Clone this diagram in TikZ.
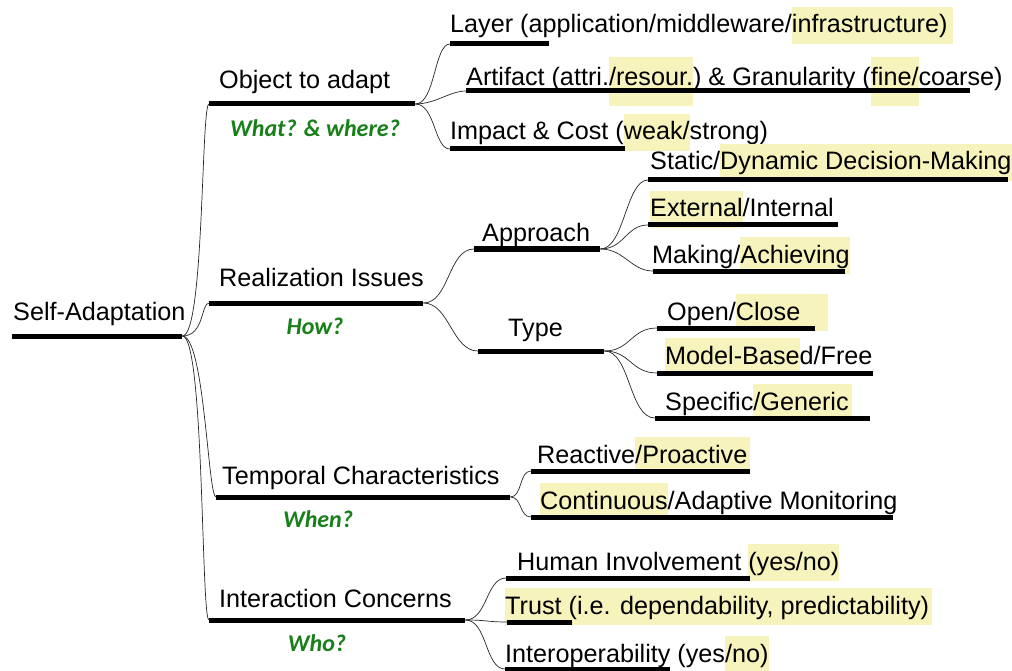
\documentclass[tikz,border=0pt]{standalone}
\usepackage{fontspec}
\setmainfont{Liberation Sans}
\newfontfamily\greenfont{Carlito}
\definecolor{hly}{RGB}{246,243,188}
\definecolor{qgreen}{RGB}{24,128,24}
\newcommand\hlbox[1]{{\setlength{\fboxsep}{0pt}\colorbox{hly}{\rule[-0.45em]{0pt}{1.5em}#1}}}
\newcommand\hldeep[1]{{\setlength{\fboxsep}{0pt}\colorbox{hly}{\rule[-0.8em]{0pt}{1.95em}#1}}}
\begin{document}
\begin{tikzpicture}[x=1pt,y=-1pt,
  txt/.style={anchor=base west, inner sep=0pt, font=\fontsize{25.2}{28}\selectfont},
  q/.style={anchor=base, inner sep=0pt, text=qgreen, font=\greenfont\bfseries\itshape\fontsize{24}{28}\selectfont},
  ul/.style={anchor=west, fill=black, inner sep=0pt, minimum height=5pt},
  conn/.style={draw=black!85, line width=0.7pt}]
\useasboundingbox (0,0) rectangle (1012,671);

% texts
\node[txt] (t-root) at (13,320) {Self-Adaptation};
\node[txt] (t-obj) at (219,89) {Object to adapt};
\node[txt] (t-real) at (219,287) {Realization Issues};
\node[txt] (t-temp) at (222,484) {Temporal Characteristics};
\node[txt] (t-inter) at (219,607) {Interaction Concerns};

\node[q] (q-obj) at (315,137) {What? \& where?};
\node[q] (q-real) at (315,334) {How?};
\node[q] (q-temp) at (318,527) {When?};
\node[q] (q-inter) at (317,651) {Who?};

\node[txt] (t-layer) at (450,33) {Layer (application/middleware/\hlbox{infrastructure)\hspace{6pt}}};
\node[txt] (t-art) at (466,86) {Artifact (attri.\hldeep{/resour.}) \& Granularity (\hldeep{fine/}coarse)};
\node[txt] (t-imp) at (450,140) {Impact \& Cost (\hlbox{weak/}strong)};

\node[txt] (t-appr) at (482,242) {Approach};
\node[txt] (t-type) at (508,336) {Type};

\node[txt] (t-static) at (650,170) {Static/\hlbox{Dynamic Decision-Making}};
\node[txt] (t-ext) at (650,217) {\hlbox{External}/Internal};
\node[txt] (t-make) at (652,263) {Making/\hlbox{Achieving}};

\node[txt] (t-open) at (667,320) {Open/\hlbox{Close\hspace{1.1em}}};
\node[txt] (t-model) at (665,364) {\hlbox{Model-Base}d/Free};
\node[txt] (t-spec) at (665,410) {Specific\hlbox{/Generic\hspace{3pt}}};

\node[txt] (t-react) at (537,463) {Reactive\hlbox{/Proactive\hspace{3pt}}};
\node[txt] (t-cont) at (540,509) {\hlbox{Continuous}/Adaptive Monitoring};

\node[txt] (t-human) at (517,570) {Human Involvement \hlbox{(yes/no)}};
\node[txt] (t-trust) at (505,614) {\hlbox{Trust (i.e. dependability, predictability)\hspace{3pt}}};
\node[txt] (t-interop) at (505,662) {Interoperability (yes\hlbox{/no)}};

% underlines
\node[ul, minimum width=170pt] (root) at (12,336) {};
\node[ul, minimum width=206pt] (obj) at (209,104) {};
\node[ul, minimum width=214pt] (real) at (209,303) {};
\node[ul, minimum width=294pt] (temp) at (216,497) {};
\node[ul, minimum width=256pt] (inter) at (209,620) {};

\node[ul, minimum width=99pt] (layer) at (450,44) {};
\node[ul, minimum width=504pt] (art) at (466,91) {};
\node[ul, minimum width=175pt] (imp) at (450,149) {};

\node[ul, minimum width=126pt] (appr) at (474,249) {};
\node[ul, minimum width=126pt] (type) at (478,351) {};

\node[ul, minimum width=360pt] (static) at (648,180) {};
\node[ul, minimum width=190pt] (ext) at (648,225) {};
\node[ul, minimum width=192pt] (make) at (653,271) {};

\node[ul, minimum width=158pt] (open) at (657,328) {};
\node[ul, minimum width=216pt] (model) at (657,373) {};
\node[ul, minimum width=215pt] (spec) at (655,418) {};

\node[ul, minimum width=219pt] (react) at (531,471) {};
\node[ul, minimum width=362pt] (cont) at (531,517) {};

\node[ul, minimum width=244pt] (human) at (506,578) {};
\node[ul, minimum width=65pt] (trust) at (507,622) {};
\node[ul, minimum width=165pt] (interop) at (505,669) {};

% connectors
\foreach \c in {obj,real,temp,inter}
  \draw[conn] (root.east) .. controls +(22,0) and +(-8,0) .. (\c.west);
\foreach \c in {layer,art,imp}
  \draw[conn] (obj.east) .. controls +(20,0) and +(-16,0) .. (\c.west);
\foreach \c in {appr,type}
  \draw[conn] (real.east) .. controls +(26,0) and +(-26,0) .. (\c.west);
\foreach \c in {static,ext,make}
  \draw[conn] (appr.east) .. controls +(24,0) and +(-22,0) .. (\c.west);
\foreach \c in {open,model,spec}
  \draw[conn] (type.east) .. controls +(26,0) and +(-26,0) .. (\c.west);
\foreach \c in {react,cont}
  \draw[conn] (temp.east) .. controls +(12,0) and +(-12,0) .. (\c.west);
\foreach \c in {human,trust,interop}
  \draw[conn] (inter.east) .. controls +(22,0) and +(-20,0) .. (\c.west);
\end{tikzpicture}
\end{document}
